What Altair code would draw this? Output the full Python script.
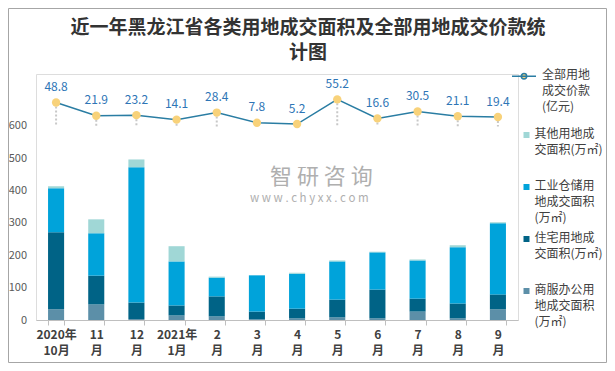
import altair as alt
import pandas as pd

# ---- data ----
months = ["2020年|10月", "11|月", "12|月", "2021年|1月", "2|月", "3|月",
          "4|月", "5|月", "6|月", "7|月", "8|月", "9|月"]
commercial = [33, 48, 3, 14, 11, 2, 5, 8, 5, 26, 5, 33]
residential = [238, 89, 51, 31, 62, 24, 30, 55, 89, 40, 46, 46]
industrial = [136, 131, 418, 136, 58, 112, 108, 118, 115, 118, 174, 220]
other = [6, 43, 24, 47, 3, 0, 3, 3, 2, 3, 6, 3]
price = [48.8, 21.9, 23.2, 14.1, 28.4, 7.8, 5.2, 55.2, 16.6, 30.5, 21.1, 19.4]

series_names = ["其他用地成|交面积(万㎡)| ", "工业仓储用|地成交面积|(万㎡)",
                "住宅用地成|交面积(万㎡)| ", "商服办公用|地成交面积|(万㎡)"]
series_colors = ["#A0D7D6", "#00A3DA", "#006386", "#5C8FA8"]
price_name = "全部用地|成交价款|(亿元)"

FONT = "Noto Sans CJK SC"

rows = []
for i, m in enumerate(months):
    for s, vals, order in [(series_names[3], commercial, 0), (series_names[2], residential, 1),
                           (series_names[1], industrial, 2), (series_names[0], other, 3)]:
        rows.append({"month": m, "series": s, "value": vals[i], "order": order})
bars_df = pd.DataFrame(rows)
price_df = pd.DataFrame({"month": months, "price": price, "name": price_name, "zero": 0})

xenc = alt.X("month:N", sort=months, title=None,
             scale=alt.Scale(paddingInner=0.6, paddingOuter=0.3),
             axis=alt.Axis(labelExpr="split(datum.label, '|')", labelAngle=0,
                           labelOverlap=False, labelFontWeight="bold", labelFontSize=12,
                           labelColor="#404040", labelFont=FONT, labelLineHeight=16.5,
                           labelPadding=4, tickBand="extent", tickSize=5,
                           tickColor="#BFBFBF", domainColor="#BFBFBF", labelLimit=80))

bars = alt.Chart(bars_df).mark_bar().encode(
    x=xenc,
    y=alt.Y("value:Q", stack="zero", title=None,
            scale=alt.Scale(domain=[0, 760], nice=False),
            axis=alt.Axis(values=[0, 100, 200, 300, 400, 500, 600], grid=False, domain=False,
                          ticks=False, labelPadding=9.5, labelFontSize=11,
                          labelColor="#595959", labelFont=FONT)),
    color=alt.Color("series:N", title=None,
                    scale=alt.Scale(domain=series_names, range=series_colors),
                    legend=alt.Legend(orient="none", legendX=484.5, legendY=49,
                                      labelExpr="split(datum.label, '|')",
                                      labelBaseline="top",
                                      labelFontSize=12, labelFont=FONT, labelColor="#404040",
                                      symbolType="M-1,1H1V3H-1Z", symbolSize=36,
                                      symbolStrokeWidth=0, symbolOffset=0,
                                      labelOffset=2, rowPadding=3,
                                      padding=0, labelLimit=120)),
    order=alt.Order("order:Q", sort="ascending"),
)

py = alt.Scale(domain=[-391.5, 106.5], nice=False, zero=False)

drops = alt.Chart(price_df).mark_rule(color="#C8C8C8", strokeDash=[2, 2], strokeWidth=2).encode(
    x=alt.X("month:N", sort=months), y=alt.Y("price:Q", scale=py, axis=None), y2="zero:Q")

line = alt.Chart(price_df).mark_line(strokeWidth=1.5).encode(
    x=alt.X("month:N", sort=months),
    y=alt.Y("price:Q", scale=py, axis=None),
    color=alt.Color("name:N", title=None,
                    scale=alt.Scale(domain=[price_name], range=["#2A7DA3"]),
                    legend=alt.Legend(orient="none", legendX=482, legendY=-9.7,
                                      labelExpr="split(datum.label, '|')",
                                      labelBaseline="top",
                                      labelFontSize=12, labelFont=FONT, labelColor="#404040",
                                      symbolType="M-4,2H4M0.9,2A0.9,0.9,0,1,1,-0.9,2A0.9,0.9,0,1,1,0.9,2Z",
                                      symbolSize=36, symbolStrokeWidth=1.5, symbolOffset=0,
                                      symbolFillColor="#F8D27A", symbolStrokeColor="#2A7DA3",
                                      labelOffset=12, padding=0, labelLimit=120)),
)

pts = alt.Chart(price_df).mark_point(filled=True, size=70, color="#F8D27A", opacity=1).encode(
    x=alt.X("month:N", sort=months), y=alt.Y("price:Q", scale=py, axis=None))

labels = alt.Chart(price_df).mark_text(dy=-15.5, fontSize=12, color="#2E75B6", font=FONT).encode(
    x=alt.X("month:N", sort=months), y=alt.Y("price:Q", scale=py, axis=None),
    text=alt.Text("price:Q", format=".1f"))

price_layer = alt.layer(drops, line, pts, labels)

one = pd.DataFrame({"a": [0]})
watermark = alt.Chart(one).mark_text(fontSize=22, color="#AFAFAF", font=FONT, align="left").encode(
    x=alt.value(234), y=alt.value(103), text=alt.value("智 研 咨 询"))
watermark2 = alt.Chart(one).mark_text(fontSize=11.5, color="#AFAFAF", font=FONT, align="left").encode(
    x=alt.value(214), y=alt.value(125), text=alt.value("w w w . c h y x x . c o m"))
frame = alt.Chart(one).mark_rect(fill=None, stroke="#A6A6A6", strokeWidth=1).encode(
    x=alt.value(-27.5), x2=alt.value(570.5), y=alt.value(-65.5), y2=alt.value(288.5))

chart = alt.layer(frame, watermark, watermark2, bars, price_layer).resolve_scale(
    y="independent", color="independent"
).properties(
    width=482, height=246,
    padding={"left": 28, "top": 66, "right": 89, "bottom": 43},
    autosize=alt.AutoSizeParams(type="none"),
    title=alt.Title(text=["近一年黑龙江省各类用地成交面积及全部用地成交价款统", "计图"],
                    fontSize=19, font=FONT, fontWeight="bold", color="#333333",
                    anchor="middle", frame="group", dx=31, offset=-55.5, lineHeight=25.6),
).configure_view(stroke=None).configure(
    background="white", style={"guide-label": {"lineHeight": 16}})

chart.save("out.html", embed_options={"renderer": "svg", "actions": False})
